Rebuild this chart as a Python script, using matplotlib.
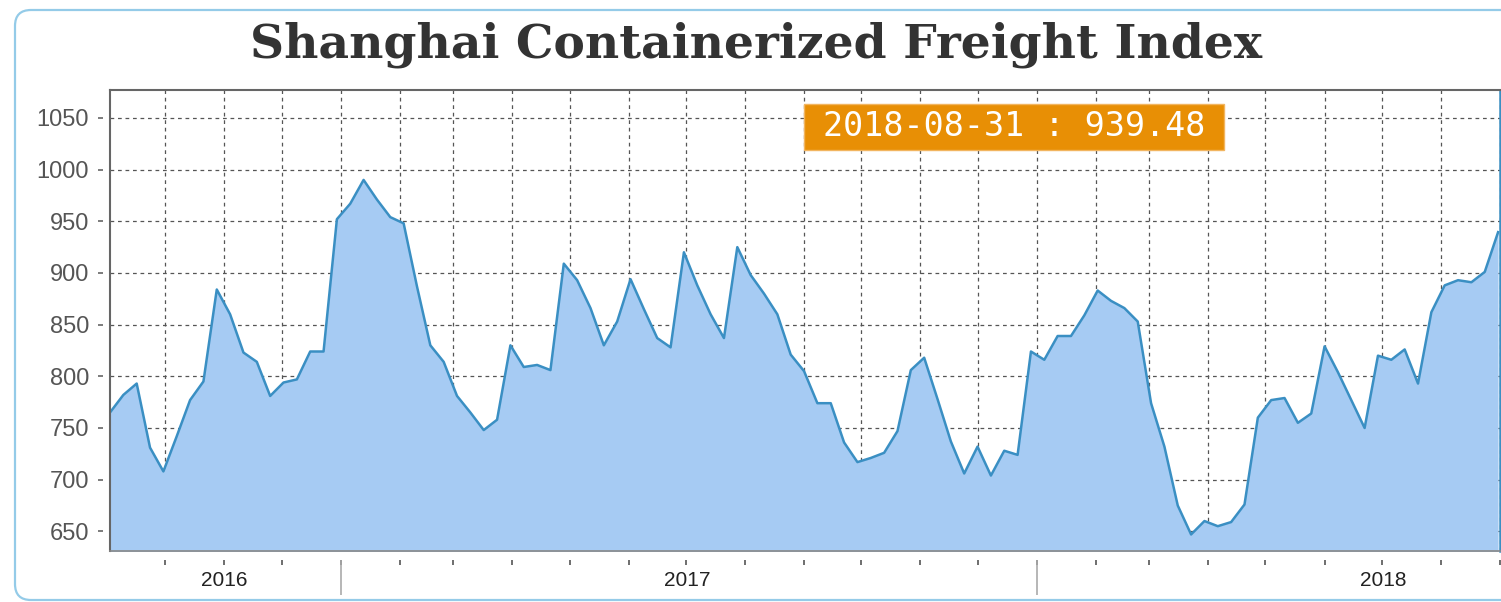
"""
Shanghai Containerized Freight Index, weekly, Sep 2016 - Aug 2018.
Area chart with the last value flagged in an orange box.
"""
import matplotlib
matplotlib.use("Agg")
import matplotlib.pyplot as plt
from matplotlib.patches import FancyBboxPatch, Rectangle
import pandas as pd

# weekly readings (Fridays), first one 2016-09-02
first_week = "2016-09-02"
scfi = [765, 782, 793, 731, 708, 742, 777, 795, 884, 860,
        823, 814, 781, 794, 797, 824, 824, 952, 967, 990,
        971, 954, 948, 887, 830, 814, 781, 765, 748, 758,
        830, 809, 811, 806, 909, 893, 866, 830, 853, 894,
        865, 837, 828, 920, 888, 860, 837, 925, 898, 880,
        860, 821, 805, 774, 774, 736, 717, 721, 726, 747,
        806, 818, 778, 737, 706, 732, 704, 728, 724, 824,
        816, 839, 839, 859, 883, 873, 866, 853, 774, 732,
        675, 647, 660, 655, 659, 676, 760, 777, 779, 755,
        764, 829, 804, 777, 750, 820, 816, 826, 793, 862,
        888, 893, 891, 901, 939.48]
y_ticks = [650, 700, 750, 800, 850, 900, 950, 1000, 1050]
year_labels = ["2016", "2017", "2018"]
year_label_at = ["2016-11-01", "2017-07-02", "2018-07-02"]
year_starts = ["2017-01-01", "2018-01-01"]
last_label = "2018-08-31 : 939.48"

dates = pd.date_range(first_week, periods=len(scfi), freq="7D")
months = pd.date_range("2016-10-01", "2018-09-01", freq="MS")

FILL, LINE = "#a6cbf3", "#3a8fc3"
W, H = 1501, 602
fig = plt.figure(figsize=(W / 100, H / 100), dpi=100)

# rounded outer panel (runs off the right / bottom edge like the screenshot)
frame = FancyBboxPatch((0.15, 0.02), 15.5, 5.9, boxstyle="round,pad=0,rounding_size=0.16",
                       transform=fig.dpi_scale_trans, fc="none", ec="#94cbe8", lw=1.6, zorder=-1)
fig.patches.append(frame)

ax = fig.add_axes([110 / W, 1 - 551 / H, 1390 / W, 461 / H])
ax.set_axisbelow(True)
ax.fill_between(dates, scfi, 600, color=FILL, lw=0)
ax.plot(dates, scfi, color=LINE, lw=1.8)
ax.set_xlim(dates[0], dates[-1])
ax.set_ylim(631, 1077)

ax.set_yticks(y_ticks)
ax.set_xticks(months)
ax.set_xticklabels([])
ax.tick_params(axis="both", length=0)
ax.tick_params(axis="y", pad=15, labelsize=17, labelcolor="#555")
for lab in ax.get_yticklabels():
    lab.set_fontfamily("Liberation Sans")
ax.grid(True, ls=(0, (3, 3)), color="#555", lw=0.9)

for side in ["top", "left"]:
    ax.spines[side].set_color("#666")
    ax.spines[side].set_linewidth(1.5)
ax.spines["bottom"].set_color("#888")
ax.spines["bottom"].set_linewidth(1.2)
ax.spines["right"].set_color(LINE)
ax.spines["right"].set_linewidth(1.8)

# detached tick dashes
ax.hlines(y_ticks, -0.0086, -0.005, transform=ax.get_yaxis_transform(),
          color="#666", lw=1.2, clip_on=False)
ax.vlines(months, -0.0195, -0.030, transform=ax.get_xaxis_transform(),
          color="#555", lw=1.2, clip_on=False)
ax.vlines(pd.to_datetime(year_starts), -0.0195, -0.095, transform=ax.get_xaxis_transform(),
          color="#aaa", lw=1.2, clip_on=False)
for lab, at in zip(year_labels, year_label_at):
    ax.text(pd.Timestamp(at), -0.063, lab, transform=ax.get_xaxis_transform(),
            ha="center", va="center", fontsize=15, color="#222", family="Liberation Sans")

fig.text(756 / W, 1 - 45 / H, "Shanghai Containerized Freight Index", ha="center", va="center",
         fontsize=34, fontweight="bold", family="DejaVu Serif", color="#333")

# last-value flag
fig.patches.append(Rectangle((804 / W, 1 - 150 / H), 420 / W, 46 / H, transform=fig.transFigure,
                             fc="#e88f05", ec="#f2b560", lw=1, zorder=5))
fig.text(1014 / W, 1 - 127 / H, last_label, ha="center", va="center",
         fontsize=24, family="DejaVu Sans Mono", color="white", zorder=6)

fig.savefig("out.png", dpi=100)
